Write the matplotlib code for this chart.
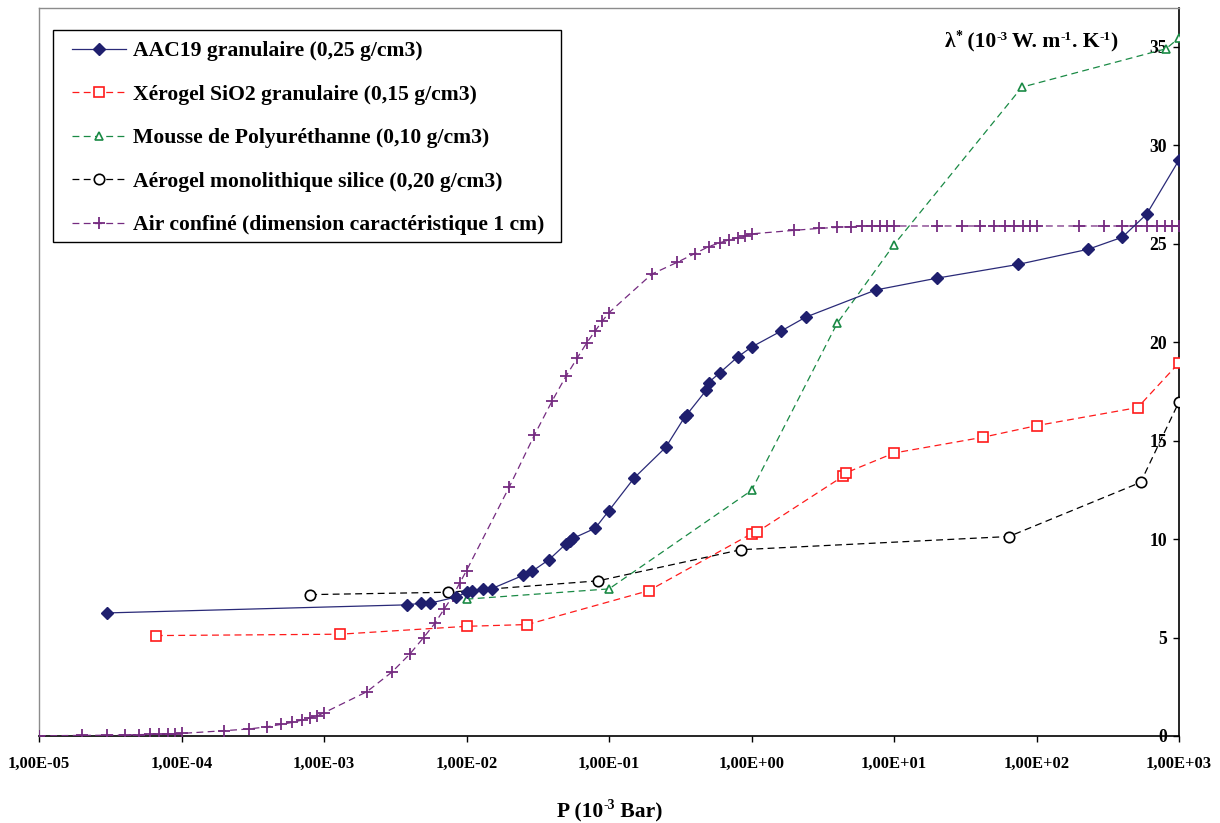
import matplotlib
matplotlib.use("Agg")
import matplotlib.pyplot as plt
from matplotlib.ticker import FixedLocator, NullLocator
from matplotlib.patches import Rectangle

plt.rcParams['font.family'] = ['Liberation Serif', 'DejaVu Serif']
plt.rcParams['font.weight'] = 'bold'

# ---------------- data ----------------
aac_label = "AAC19 granulaire (0,25 g/cm3)"
aac_x = [3.0e-5, 3.8e-3, 4.8e-3, 5.5e-3, 8.5e-3, 1.0e-2, 1.09e-2, 1.3e-2, 1.5e-2,
         2.5e-2, 2.88e-2, 3.8e-2, 5.0e-2, 5.3e-2, 5.6e-2, 8.0e-2, 0.1, 0.15, 0.25,
         0.34, 0.35, 0.48, 0.50, 0.60, 0.80, 1.0, 1.6, 2.4, 7.45, 20, 74.5, 231,
         400, 593, 1000]
aac_y = [6.25, 6.66, 6.74, 6.74, 7.06, 7.3, 7.38, 7.48, 7.48,
         8.16, 8.36, 8.96, 9.76, 9.9, 10.04, 10.55, 11.45, 13.1, 14.66,
         16.2, 16.3, 17.55, 17.95, 18.45, 19.25, 19.75, 20.55, 21.27, 22.65, 23.25, 23.95, 24.72,
         25.33, 26.5, 29.25]

xero_label = "Xérogel SiO2 granulaire (0,15 g/cm3)"
xero_x = [6.6e-5, 1.3e-3, 1.0e-2, 2.67e-2, 0.19, 1.0, 1.1, 4.37, 4.58, 10, 42, 100, 513, 1000]
xero_y = [5.1, 5.17, 5.57, 5.66, 7.38, 10.27, 10.37, 13.18, 13.36, 14.37, 15.17, 15.76, 16.68, 18.95]

pu_label = "Mousse de Polyuréthanne (0,10 g/cm3)"
pu_x = [1.0e-2, 0.1, 1.0, 4.0, 10, 79, 811, 1000]
pu_y = [6.95, 7.47, 12.47, 20.97, 24.95, 32.95, 34.9, 35.45]

aero_label = "Aérogel monolithique silice (0,20 g/cm3)"
aero_x = [8.0e-4, 7.4e-3, 8.4e-2, 0.84, 64, 538, 1000]
aero_y = [7.18, 7.3, 7.88, 9.46, 10.13, 12.88, 16.97]

air_label = "Air confiné (dimension caractéristique 1 cm)"
air_x = [1e-5, 2e-5, 3e-5, 4e-5, 5e-5, 6e-5, 7e-5, 8e-5, 9e-5,
         1e-4, 2e-4, 3e-4, 4e-4, 5e-4, 6e-4, 7e-4, 8e-4, 9e-4,
         1e-3, 2e-3, 3e-3, 4e-3, 5e-3, 6e-3, 7e-3, 8e-3, 9e-3,
         1e-2, 2e-2, 3e-2, 4e-2, 5e-2, 6e-2, 7e-2, 8e-2, 9e-2,
         1e-1, 2e-1, 3e-1, 4e-1, 5e-1, 6e-1, 7e-1, 8e-1, 9e-1,
         1, 2, 3, 4, 5, 6, 7, 8, 9,
         10, 20, 30, 40, 50, 60, 70, 80, 90,
         100, 200, 300, 400, 500, 600, 700, 800, 900,
         1000]
air_y = [0.01, 0.03, 0.04, 0.05, 0.07, 0.08, 0.09, 0.11, 0.12,
         0.13, 0.27, 0.36, 0.47, 0.59, 0.69, 0.81, 0.93, 1.03,
         1.18, 2.25, 3.25, 4.16, 5.0, 5.72, 6.47, 7.1, 7.79,
         8.4, 12.66, 15.29, 17.03, 18.28, 19.21, 19.98, 20.57, 21.08,
         21.5, 23.46, 24.05, 24.5, 24.85, 25.05, 25.2, 25.3, 25.4,
         25.5, 25.68, 25.78, 25.83, 25.87, 25.89, 25.9, 25.9, 25.9,
         25.9, 25.9, 25.9, 25.9, 25.9, 25.9, 25.9, 25.9, 25.9,
         25.9, 25.9, 25.9, 25.9, 25.9, 25.9, 25.9, 25.9, 25.9,
         25.9]

x_ticks = [1e-5, 1e-4, 1e-3, 1e-2, 1e-1, 1e0, 1e1, 1e2, 1e3]
x_ticklabels = ["1,00E-05", "1,00E-04", "1,00E-03", "1,00E-02", "1,00E-01",
                "1,00E+00", "1,00E+01", "1,00E+02", "1,00E+03"]
y_ticks = [0, 5, 10, 15, 20, 25, 30, 35]

# ---------------- figure ----------------
W, H = 1220, 823
fig = plt.figure(figsize=(W / 100, H / 100), dpi=100)
ax = fig.add_axes([39 / W, 1 - 736 / H, (1179 - 39) / W, (736 - 8) / H])

navy = '#1f1f6e'
red = '#ff1a1a'
green = '#1a8a45'
purple = '#752b80'

dash = (5.5, 3.5)
ax.plot(aac_x, aac_y, color='#2a2a78', lw=0.9, marker='D', ms=6.2,
        mfc=navy, mec=navy, label=aac_label, zorder=5)
ax.plot(xero_x, xero_y, color=red, lw=0.9, ls=(0, dash), marker='s', ms=7,
        mfc='white', mec=red, mew=1.2, label=xero_label, zorder=4)
ax.plot(pu_x, pu_y, color=green, lw=0.9, ls=(0, dash), marker='^', ms=6,
        mfc='white', mec=green, mew=1.2, label=pu_label, zorder=4)
ax.plot(aero_x, aero_y, color='black', lw=0.9, ls=(0, dash), marker='o', ms=7.5,
        mfc='white', mec='black', mew=1.2, label=aero_label, zorder=4)
ax.plot(air_x, air_y, color=purple, lw=0.9, ls=(0, dash), marker='+', ms=8.5,
        mec=purple, mew=1.3, label=air_label, zorder=3)

ax.set_xscale('log')
ax.set_xlim(1e-5, 1e3)
ax.set_ylim(0, 36.97)
ax.xaxis.set_major_locator(FixedLocator(x_ticks))
ax.xaxis.set_minor_locator(NullLocator())
ax.set_xticklabels(x_ticklabels)
ax.set_yticks(y_ticks)
ax.set_yticklabels([str(v) for v in y_ticks])

# y axis at the right edge, labels inside
ax.spines['left'].set_position(('axes', 1.0))
ax.spines['right'].set_position(('axes', 0.0))
ax.spines['left'].set_color('black')
ax.spines['left'].set_linewidth(1.2)
ax.spines['bottom'].set_color('black')
ax.spines['bottom'].set_linewidth(1.2)
ax.spines['right'].set_color('#8c8c8c')
ax.spines['top'].set_color('#8c8c8c')
ax.spines['right'].set_linewidth(1.0)
ax.spines['top'].set_linewidth(1.0)

ax.tick_params(axis='x', direction='out', length=4, width=1, pad=10, labelsize=12)
ax.tick_params(axis='y', direction='out', length=4, width=1, pad=4.5, labelsize=12.7)
for t in ax.get_xticklabels() + ax.get_yticklabels():
    t.set_fontweight('bold')


# ---------------- rich text helper (superscripts with hyphen) ----------------
def rich_text(x_px, y_base_px, pieces, ha='center'):
    renderer = fig.canvas.get_renderer()
    objs = []
    for txt, size, rise in pieces:
        t = fig.text(0, 0, txt, fontsize=size, fontweight='bold', va='baseline', ha='left')
        objs.append((t, rise))
    widths = [t.get_window_extent(renderer).width for t, _ in objs]
    total = sum(widths)
    x0 = x_px - total / 2 if ha == 'center' else x_px
    for (t, rise), w in zip(objs, widths):
        t.set_position((x0 / W, 1 - (y_base_px - rise) / H))
        x0 += w


# x axis title: P (10^-3 Bar)
rich_text(610, 817, [("P (10", 15.5, 0), ("-3", 10, 8), (" Bar)", 15.5, 0)])
# y axis title
rich_text(1031, 47, [("λ", 15.5, 0), ("*", 10, 7), (" (10", 15.5, 0), ("-3", 9.5, 7),
                     (" W. m", 15.5, 0), ("-1", 9.5, 7), (". K", 15.5, 0), ("-1", 9.5, 7),
                     (")", 15.5, 0)])

# ---------------- legend ----------------
leg = ax.legend(loc='upper left', bbox_to_anchor=(72 / W, 1 - 41 / H),
                bbox_transform=fig.transFigure, fontsize=15.6, frameon=False,
                borderpad=0, labelspacing=1.08, handlelength=2.5,
                handletextpad=0.3, borderaxespad=0)
for t in leg.get_texts():
    t.set_fontweight('bold')
fig.patches.append(Rectangle((52.7 / W, 1 - 242 / H), (561 - 52.7) / W, (242 - 29.7) / H,
                             transform=fig.transFigure, fill=False, edgecolor='black',
                             linewidth=1.0, zorder=10))

fig.savefig('out.png', dpi=100, facecolor='white')
